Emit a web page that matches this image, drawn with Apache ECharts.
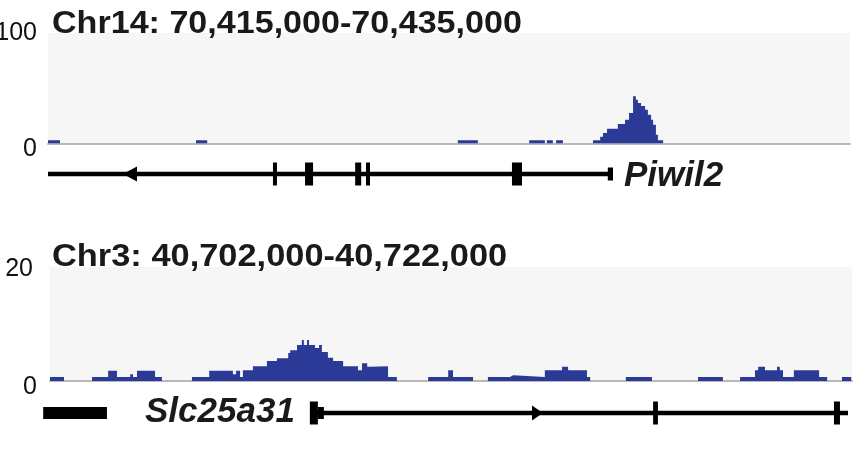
<!DOCTYPE html>
<html><head><meta charset="utf-8">
<script src="https://cdn.jsdelivr.net/npm/echarts@6/dist/echarts.min.js"></script>
<style>html,body{margin:0;padding:0;background:#fff}#c{width:857px;height:454px}</style>
</head><body><div id="c"></div>
<script>
// ---- data ----
const titles = ['Chr14: 70,415,000-70,435,000', 'Chr3: 40,702,000-40,722,000'];
const geneNames = ['Piwil2', 'Slc25a31'];
const yMax = [100, 20];
const regionKb = 20; // each window spans 20 kb
// coverage segments: [startKb, endKb, value]
const covPiwil2 = [
  [0.00,0.30,3],[3.69,3.97,3],[10.22,10.72,3],[12.00,12.39,3],[12.44,12.59,3],[12.67,12.84,3],
  [13.59,13.77,3],[13.77,13.84,6],[13.84,13.94,9.5],[13.94,14.21,13.4],[14.21,14.39,17.6],
  [14.39,14.49,21.5],[14.49,14.59,27.6],[14.59,14.66,42.7],[14.66,14.71,39.6],[14.71,14.79,36.7],
  [14.79,14.89,34],[14.89,14.96,30.6],[14.96,15.04,26],[15.04,15.09,21.5],[15.09,15.16,17],
  [15.16,15.21,8],[15.21,15.34,3]
];
const covSlc25a31 = [
  [0.00,0.35,0.7],[1.05,1.45,0.7],[1.45,1.67,1.8],[1.67,2.00,0.7],[2.00,2.07,1.2],[2.07,2.17,0.7],
  [2.17,2.62,1.8],[2.62,2.79,0.7],[3.54,3.97,0.7],[3.97,4.56,1.8],[4.56,4.64,1.2],[4.64,4.74,1.8],
  [4.74,4.81,0.7],[4.81,5.06,1.9],[5.06,5.41,2.6],[5.41,5.66,3.5],[5.66,5.94,4.0],[5.94,5.99,4.9],
  [5.99,6.16,5.4],[6.16,6.28,6.3],[6.28,6.33,7.2],[6.33,6.41,6.3],[6.41,6.46,7.2],[6.46,6.61,6.3],
  [6.61,6.71,5.8],[6.71,6.78,6.3],[6.78,6.93,5.1],[6.93,7.06,4.1],[7.06,7.31,3.5],[7.31,7.68,2.6],
  [7.68,7.78,1.9],[7.78,7.91,3.1],[7.91,7.98,2.5],[7.98,8.43,2.6],[8.43,8.65,0.7],
  [9.43,9.93,0.7],[9.93,10.05,1.9],[10.05,10.55,0.7],[10.92,11.47,0.7],[11.47,11.55,1.0],
  [11.55,12.34,0.7],[12.34,12.77,1.9],[12.77,12.92,2.5],[12.92,13.39,1.9],[13.39,13.47,0.7],
  [14.36,15.01,0.7],[16.16,16.78,0.7],[17.21,17.58,0.7],[17.58,17.66,1.9],[17.66,17.83,2.5],
  [17.83,18.13,1.9],[18.13,18.20,2.5],[18.20,18.28,1.9],[18.28,18.55,0.7],[18.55,19.18,1.9],
  [19.18,19.38,0.7],[19.75,19.98,0.7]
];
// gene models: [startKb, endKb, kind]
const genePiwil2 = [
  [0.00,14.07,'intron'],[1.87,2.22,'arrowL'],[5.61,5.71,'exon'],[6.41,6.61,'exon'],
  [7.66,7.81,'exon'],[7.93,8.03,'exon'],[11.57,11.82,'exon'],[13.96,14.09,'cap']
];
const geneSlc25a31 = [
  [-0.17,1.42,'block'],[6.53,19.90,'intron'],[6.48,6.68,'exon'],[6.68,6.83,'block'],
  [12.02,12.29,'arrowR'],[15.04,15.16,'exon'],[19.55,19.70,'exon']
];

// ---- styles ----
const FONT = "'Liberation Sans', Arial, Helvetica, sans-serif";
const BLUE = '#2b3a96';
const heights = {intron: 4.5, exon: 23, cap: 13, block: 12, arrowL: 15, arrowR: 15};

// turn segments into step-line points (value holds until next point)
function stepPoints(segs) {
  const pts = [];
  segs.forEach((s, i) => {
    const prev = segs[i - 1];
    if (!prev || prev[1] < s[0] - 1e-9) pts.push([s[0], 0]);
    pts.push([s[0], s[2]]);
    const next = segs[i + 1];
    if (!next || next[0] > s[1] + 1e-9) pts.push([s[1], 0]);
  });
  return pts;
}
function makeGeneRender(model) {
  return function (params, api) {
    const kind = model[params.dataIndex][2];
    const s = api.coord([api.value(0), 0.5]);
    const e = api.coord([api.value(1), 0.5]);
    const h = heights[kind];
    if (kind === 'arrowL' || kind === 'arrowR') {
      const tip = kind === 'arrowL' ? s[0] : e[0];
      const base = kind === 'arrowL' ? e[0] : s[0];
      return {type: 'polygon', shape: {points: [[tip, s[1]], [base, s[1] - h / 2], [base, s[1] + h / 2]]},
              style: {fill: '#000'}};
    }
    return {type: 'rect', shape: {x: s[0], y: s[1] - h / 2, width: Math.max(e[0] - s[0], 1), height: h},
            style: {fill: '#000'}};
  };
}
function yLabel(v) { return v === 0 ? '{z|0}' : (v === 20 ? '{t|20}' : '{m|' + v + '}'); }
const labelRich = {
  z: {fontSize: 25, fontFamily: FONT, color: '#111', padding: [12, 0, 0, 0]},
  t: {fontSize: 25, fontFamily: FONT, color: '#111', padding: [4, 4, 0, 0]},
  m: {fontSize: 25, fontFamily: FONT, color: '#111'}
};

const grids = [
  {left: 48, right: 7, top: 33, height: 110.5},
  {left: 50, right: 5, top: 267, height: 114},
  {left: 48, right: 7, top: 161, height: 26},
  {left: 50, right: 5, top: 400, height: 26}
];
const lineCov = (data, idx) => ({
  type: 'line', xAxisIndex: idx, yAxisIndex: idx, data: stepPoints(data), step: 'end',
  symbol: 'none', lineStyle: {width: 0, opacity: 0}, areaStyle: {color: BLUE, opacity: 1}, z: 3
});
const option = {
  animation: false,
  grid: grids.map((g, i) => Object.assign({show: i < 2, backgroundColor: '#f6f6f7', borderWidth: 0,
    containLabel: false, outerBoundsMode: 'none'}, g)),
  xAxis: grids.map((g, i) => ({
    type: 'value', gridIndex: i, min: 0, max: regionKb,
    axisLine: {show: i < 2, lineStyle: {color: '#b8b8b8', width: 2}},
    axisTick: {show: false}, axisLabel: {show: false}, splitLine: {show: false}
  })),
  yAxis: grids.map((g, i) => ({
    type: 'value', gridIndex: i, min: 0, max: i < 2 ? yMax[i] : 1, interval: i < 2 ? yMax[i] : 1,
    show: i < 2, axisLine: {show: false}, axisTick: {show: false}, splitLine: {show: false},
    axisLabel: {show: i < 2, margin: i === 0 ? 11 : 13, formatter: yLabel, rich: labelRich}
  })),
  series: [
    lineCov(covPiwil2, 0),
    lineCov(covSlc25a31, 1),
    {type: 'custom', xAxisIndex: 2, yAxisIndex: 2, data: genePiwil2.map(d => [d[0], d[1]]),
     renderItem: makeGeneRender(genePiwil2), clip: false, encode: {x: [0, 1]}},
    {type: 'custom', xAxisIndex: 3, yAxisIndex: 3, data: geneSlc25a31.map(d => [d[0], d[1]]),
     renderItem: makeGeneRender(geneSlc25a31), clip: false, encode: {x: [0, 1]}}
  ],
  graphic: [
    {type: 'text', x: 52, y: 24, scaleX: 1.065, style: {text: titles[0], font: 'bold 32px ' + FONT, fill: '#1a1a1a', verticalAlign: 'middle'}},
    {type: 'text', x: 52, y: 257, scaleX: 1.075, style: {text: titles[1], font: 'bold 32px ' + FONT, fill: '#1a1a1a', verticalAlign: 'middle'}},
    {type: 'text', x: 624, y: 176, style: {text: geneNames[0], font: 'italic bold 35px ' + FONT, fill: '#1a1a1a', verticalAlign: 'middle'}},
    {type: 'text', x: 145, y: 412, style: {text: geneNames[1], font: 'italic bold 35px ' + FONT, fill: '#1a1a1a', verticalAlign: 'middle'}}
  ]
};
const chart = echarts.init(document.getElementById('c'), null, {renderer: 'canvas'});
chart.setOption(option);
</script>
</body></html>
